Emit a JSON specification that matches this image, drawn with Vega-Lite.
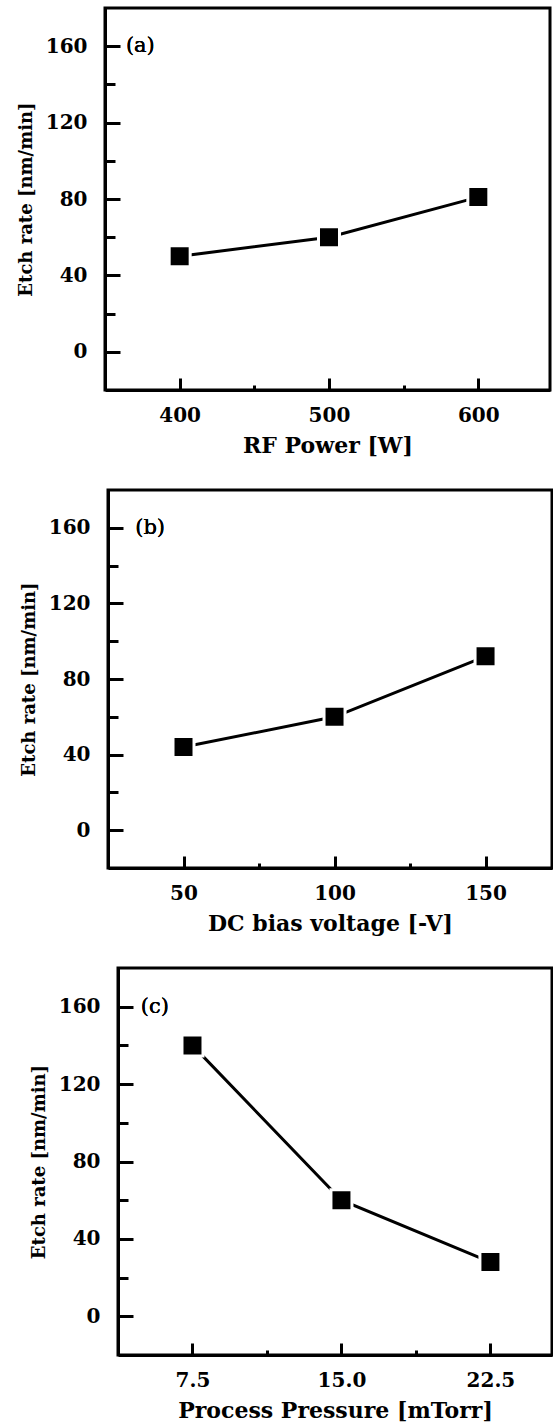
{
  "$schema": "https://vega.github.io/schema/vega-lite/v6.json",
  "padding": {"top": 6, "left": 15, "right": 0, "bottom": 0},
  "background": "white",
  "align": "none",
  "spacing": 30,
  "config": {
    "font": "DejaVu Serif",
    "view": {"stroke": "black", "strokeWidth": 3},
    "axis": {
      "grid": false,
      "domainColor": "black",
      "domainWidth": 3,
      "tickColor": "black",
      "tickWidth": 3,
      "labelFont": "DejaVu Serif",
      "labelFontWeight": "bold",
      "labelFontSize": 20,
      "labelColor": "black",
      "titleFont": "DejaVu Serif",
      "titleFontWeight": "bold",
      "titleColor": "black"
    },
    "axisX": {"titleFontSize": 22, "labelPadding": 27, "titlePadding": 10},
    "axisY": {"titleFontSize": 18, "labelPadding": 33, "titlePadding": 10}
  },
  "vconcat": [
    {
      "width": 445,
      "height": 382,
      "data": {"values": [
        {"power": 400, "rate": 50},
        {"power": 500, "rate": 60},
        {"power": 600, "rate": 81}
      ]},
      "encoding": {
        "x": {"field": "power", "type": "quantitative", "scale": {"domain": [350, 648]},
          "axis": {"title": "RF Power [W]", "values": [400, 450, 500, 550, 600],
            "labelExpr": "datum.value % 100 == 0 ? datum.label : ''",
            "tickSize": {"condition": {"test": "datum.value % 100 != 0", "value": -5}, "value": -12}}},
        "y": {"field": "rate", "type": "quantitative", "scale": {"domain": [-20, 180]},
          "axis": {"title": "Etch rate [nm/min]", "values": [0, 20, 40, 60, 80, 100, 120, 140, 160],
            "labelExpr": "datum.value % 40 == 0 ? datum.label : ''",
            "tickSize": {"condition": {"test": "datum.value % 40 != 0", "value": -10}, "value": -15}}}
      },
      "layer": [
        {"mark": {"type": "line", "color": "black", "strokeWidth": 3}},
        {"mark": {"type": "point", "shape": "square", "filled": true, "size": 441, "fill": "black", "stroke": "white", "strokeWidth": 3, "opacity": 1}},
        {"mark": {"type": "text", "align": "left", "baseline": "middle", "font": "DejaVu Serif", "fontSize": 21, "color": "black"},
          "encoding": {"x": {"datum": 364}, "y": {"datum": 160}, "text": {"value": "(a)"}}}
      ]
    },
    {
      "spacing": 0,
      "align": "none",
      "bounds": "flush",
      "hconcat": [
        {"width": 3, "height": 1, "view": {"stroke": null}, "data": {"values": []}, "mark": "point"},
        {
          "width": 444,
          "height": 378,
          "data": {"values": [
            {"bias": 50, "rate": 44},
            {"bias": 100, "rate": 60},
            {"bias": 150, "rate": 92}
          ]},
          "encoding": {
            "x": {"field": "bias", "type": "quantitative", "scale": {"domain": [25, 172]},
              "axis": {"title": "DC bias voltage [-V]", "values": [50, 75, 100, 125, 150],
                "labelExpr": "datum.value % 50 == 0 ? datum.label : ''",
                "tickSize": {"condition": {"test": "datum.value % 50 != 0", "value": -5}, "value": -12}}},
            "y": {"field": "rate", "type": "quantitative", "scale": {"domain": [-20, 180]},
              "axis": {"title": "Etch rate [nm/min]", "values": [0, 20, 40, 60, 80, 100, 120, 140, 160],
                "labelExpr": "datum.value % 40 == 0 ? datum.label : ''",
                "tickSize": {"condition": {"test": "datum.value % 40 != 0", "value": -10}, "value": -15}}}
          },
          "layer": [
            {"mark": {"type": "line", "color": "black", "strokeWidth": 3}},
            {"mark": {"type": "point", "shape": "square", "filled": true, "size": 441, "fill": "black", "stroke": "white", "strokeWidth": 3, "opacity": 1}},
            {"mark": {"type": "text", "align": "left", "baseline": "middle", "font": "DejaVu Serif", "fontSize": 21, "color": "black"},
              "encoding": {"x": {"datum": 34}, "y": {"datum": 160}, "text": {"value": "(b)"}}}
          ]
        }
      ]
    },
    {
      "spacing": 0,
      "align": "none",
      "bounds": "flush",
      "hconcat": [
        {"width": 13, "height": 1, "view": {"stroke": null}, "data": {"values": []}, "mark": "point"},
        {
          "width": 434,
          "height": 387,
          "data": {"values": [
            {"pressure": 7.5, "rate": 140},
            {"pressure": 15, "rate": 60},
            {"pressure": 22.5, "rate": 28}
          ]},
          "encoding": {
            "x": {"field": "pressure", "type": "quantitative", "scale": {"domain": [3.75, 25.6]},
              "axis": {"title": "Process Pressure [mTorr]", "values": [7.5, 11.25, 15, 18.75, 22.5],
                "labelExpr": "(datum.value == 7.5 || datum.value == 15 || datum.value == 22.5) ? format(datum.value, '.1f') : ''",
                "tickSize": {"condition": {"test": "datum.value == 11.25 || datum.value == 18.75", "value": -5}, "value": -12}}},
            "y": {"field": "rate", "type": "quantitative", "scale": {"domain": [-20, 180]},
              "axis": {"title": "Etch rate [nm/min]", "values": [0, 20, 40, 60, 80, 100, 120, 140, 160],
                "labelExpr": "datum.value % 40 == 0 ? datum.label : ''",
                "tickSize": {"condition": {"test": "datum.value % 40 != 0", "value": -10}, "value": -15}}}
          },
          "layer": [
            {"mark": {"type": "line", "color": "black", "strokeWidth": 3}},
            {"mark": {"type": "point", "shape": "square", "filled": true, "size": 441, "fill": "black", "stroke": "white", "strokeWidth": 3, "opacity": 1}},
            {"mark": {"type": "text", "align": "left", "baseline": "middle", "font": "DejaVu Serif", "fontSize": 21, "color": "black"},
              "encoding": {"x": {"datum": 4.9}, "y": {"datum": 160}, "text": {"value": "(c)"}}}
          ]
        }
      ]
    }
  ]
}
